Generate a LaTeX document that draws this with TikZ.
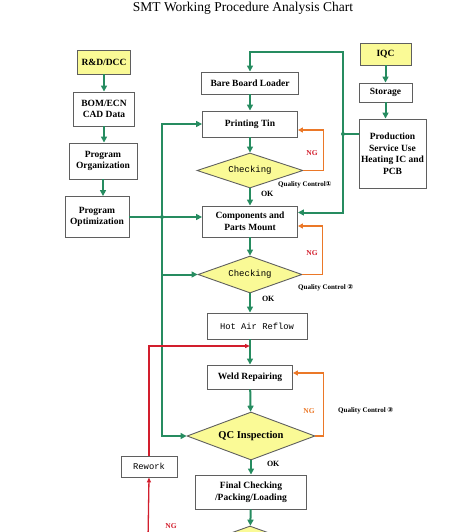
\documentclass[tikz,border=0pt]{standalone}
\usepackage{fontspec}
\setmainfont{Liberation Serif}
\setmonofont{Liberation Mono}
\newfontfamily\circfont{DejaVu Sans}
\usetikzlibrary{shapes.geometric,arrows.meta}
\definecolor{flowgreen}{RGB}{38,140,96}
\definecolor{ngorange}{RGB}{235,120,40}
\definecolor{rwred}{RGB}{210,30,45}
\definecolor{boxyellow}{RGB}{250,250,150}
\definecolor{boxgray}{RGB}{95,95,95}

\begin{document}
\begin{tikzpicture}[x=1pt,y=-1pt,
  box/.style={draw=boxgray,line width=0.9pt,fill=white,align=center,inner sep=1pt,
    font=\bfseries\fontsize{9.5}{11.5}\selectfont},
  src/.style={box,fill=boxyellow},
  check/.style={diamond,aspect=2.9,draw=boxgray,line width=0.9pt,fill=boxyellow,inner sep=0pt,
    font=\ttfamily\fontsize{9}{10}\selectfont},
  mono/.style={font=\ttfamily\fontsize{8.8}{10}\selectfont},
  flow/.style={draw=flowgreen,line width=2pt},
  tip/.style={-{Triangle[length=6pt,width=6pt]}},
  ngline/.style={draw=ngorange,line width=1.4pt,-{Triangle[length=5pt,width=5pt]}},
  rwline/.style={draw=rwred,line width=1.3pt,-{Triangle[length=5pt,width=4pt]}},
  lbl/.style={inner sep=0pt,font=\bfseries\fontsize{7}{8}\selectfont},
  oklbl/.style={inner sep=0pt,font=\bfseries\fontsize{8}{9}\selectfont},
  nglbl/.style={inner sep=0pt,text=rwred,font=\bfseries\fontsize{7.5}{8}\selectfont}]

  \useasboundingbox (0,0) rectangle (474,532);
  \clip (0,0) rectangle (474,532);

  \node[anchor=base,inner sep=0pt,font=\fontsize{13.5}{15}\selectfont] (title) at (243,11.5)
    {SMT Working Procedure Analysis Chart};

  \node[src,minimum width=53pt,minimum height=24pt] (rd) at (104,62) {R\&D/DCC};
  \node[box,minimum width=61pt,minimum height=34pt] (bom) at (104,109) {BOM/ECN\\CAD Data};
  \node[box,minimum width=68pt,minimum height=36pt] (org) at (103,161) {Program\\Organization};
  \node[box,minimum width=64pt,minimum height=41pt] (opt) at (97,217) {Program\\Optimization};

  \node[box,minimum width=97pt,minimum height=22pt] (bare) at (250,83) {Bare Board Loader};
  \node[box,minimum width=95pt,minimum height=26pt] (print) at (250,124) {Printing Tin};
  \node[check,minimum width=106pt,minimum height=35pt] (chk1) at (250,170.5) {Checking};
  \node[box,minimum width=95pt,minimum height=31pt] (mount) at (250,221.5) {Components and\\Parts Mount};
  \node[check,minimum width=104pt,minimum height=37pt] (chk2) at (250,274.5) {Checking};
  \node[box,mono,minimum width=100pt,minimum height=26pt] (reflow) at (257,326) {Hot Air Reflow};
  \node[box,minimum width=85pt,minimum height=24pt] (weld) at (250,377) {Weld Repairing};
  \node[check,minimum width=128pt,minimum height=48pt,
    font=\bfseries\fontsize{10.5}{12}\selectfont] (qc) at (251,436) {QC Inspection};
  \node[box,minimum width=111pt,minimum height=34pt] (final) at (251,492) {Final Checking\\/Packing/Loading};
  \node[check,minimum width=100pt,minimum height=36pt] (last) at (250,544) {};
  \node[box,mono,minimum width=56pt,minimum height=21pt] (rework) at (149,466.5) {Rework};

  \node[src,minimum width=51pt,minimum height=22pt] (iqc) at (385.5,54) {IQC};
  \node[box,minimum width=53pt,minimum height=19pt] (store) at (385.5,92.5) {Storage};
  \node[box,minimum width=67pt,minimum height=69pt] (prod) at (392.5,153.5)
    {Production\\Service Use\\Heating IC and\\PCB};

  \coordinate (trk) at (162,0);
  \coordinate (rtop) at (343,52);
  \coordinate (rjn) at (343,134);
  \coordinate (mid) at (250,346);
  \coordinate (ngin) at (148,540);

  % left column and trunk
  \draw[flow,tip] (rd) -- (bom);
  \draw[flow,tip] (bom.south) -- (bom.south |- org.north);
  \draw[flow,tip] (org.south) -- (org.south |- opt.north);
  \draw[flow,tip] (opt.east) -- (opt.east -| mount.west);
  \draw[flow,tip] (opt.east -| trk) |- (print.west);
  \draw[flow,tip] (opt.east -| trk) |- (chk2.west);
  \draw[flow,tip] (opt.east -| trk) |- (qc.west);
  \fill[flowgreen] (opt.east -| trk) circle (2pt);

  % main column
  \draw[flow,tip] (bare) -- (print);
  \draw[flow,tip] (print) -- (chk1);
  \draw[flow,tip] (chk1) -- node[oklbl,pos=0.3,right=10pt]{OK} (mount);
  \draw[flow,tip] (mount) -- (chk2);
  \draw[flow,tip] (chk2.south) -- node[oklbl,pos=0.3,right=11pt]{OK} (chk2.south |- reflow.north);
  \draw[flow,tip] (reflow.south -| weld.north) -- (weld.north);
  \draw[flow,tip] (weld) -- (qc);
  \draw[flow,tip] (qc) -- node[oklbl,pos=0.25,right=15pt]{OK} (final);
  \draw[flow,tip] (final) -- (last);

  % incoming material
  \draw[flow,tip] (iqc) -- (store);
  \draw[flow,tip] (store.south) -- (store.south |- prod.north);
  \draw[flow] (prod.west |- rjn) -- (rjn);
  \draw[flow,tip] (rjn) -- (rtop) -| (bare.north);
  \draw[flow,tip] (rjn) |- ([yshift=9pt]mount.east);
  \fill[flowgreen] (rjn) circle (2pt);

  % NG loops
  \draw[ngline] (chk1.east) -- ++(20,0) |- ([yshift=-6pt]print.east);
  \draw[ngline] (chk2.east) -- ++(20,0) |- ([yshift=-4.5pt]mount.east);
  \draw[ngline] (qc.east) -- ++(8,0) |- ([yshift=4pt]weld.east);
  \draw[rwline] (rework.north) |- (mid);
  \draw[rwline] (ngin) -- (rework.south);

  \node[nglbl] (ng1) at (312,153) {NG};
  \node[nglbl] (ng2) at (312,253) {NG};
  \node[nglbl,text=ngorange] (ng3) at (309,411) {NG};
  \node[nglbl] (ng4) at (171,526) {NG};
  \node[lbl,anchor=west] (qc1) at (278,185) {Quality Control{\circfont ①}};
  \node[lbl,anchor=west] (qc2) at (298,288) {Quality Control {\circfont ②}};
  \node[lbl,anchor=west] (qc3) at (338,411) {Quality Control {\circfont ③}};
\end{tikzpicture}
\end{document}
